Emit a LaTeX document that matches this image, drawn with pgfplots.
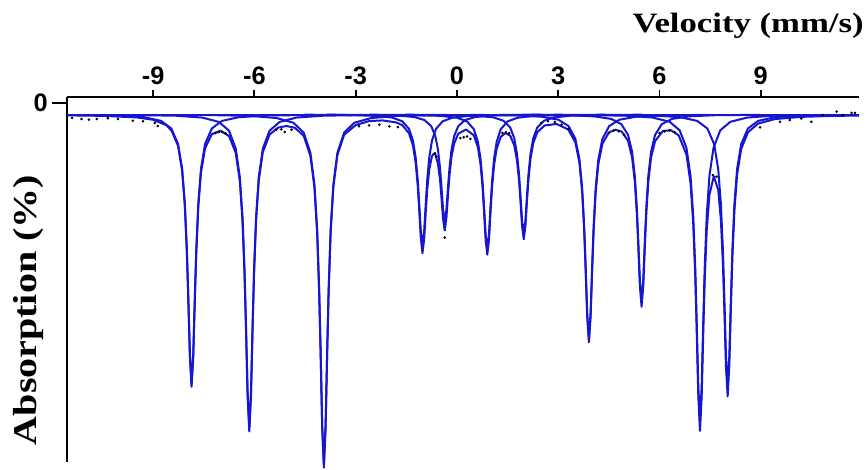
\documentclass[border=0pt]{standalone}
\usepackage{pgfplots}
\pgfplotsset{compat=1.18}
\usepackage{fontspec}
\usepackage{graphicx}
\setmainfont{Liberation Serif}
\newfontfamily\arialfont{Liberation Sans}
\definecolor{fitblue}{RGB}{22,22,210}
\pgfplotsset{fitline/.style={fitblue, line width=1.5pt, mark=none, line join=round}}
\begin{document}
\begin{tikzpicture}
\begin{axis}[
  scale only axis, width=594pt, height=273.75pt,
  xmin=-11.55, xmax=11.91, ymin=-2.0623, ymax=0.1039,
  clip=false,
  axis x line*=top, axis y line*=left,
  axis line style={line width=1.5pt, black},
  xtick={-9,-6,-3,0,3,6,9},
  xticklabels={-9,-6,-3,0,3,6,9},
  ytick=\empty,
  extra y ticks={0.068}, extra y tick labels={0},
  extra tick style={major tick length=11pt},
  tick align=outside,
  major tick length=5.5pt,
  tick style={line width=1.3pt, black},
  ticklabel style={font=\arialfont\bfseries\fontsize{19}{19}\selectfont},
]
% invisible frame giving the picture its size
\path (rel axis cs:-0.0846,-0.0192) rectangle (rel axis cs:1.0114,1.2658);

% baseline
\addplot[fitline] coordinates {(-11.55,0) (11.91,0)};

% sub-spectra (Lorentzian lines)
\addplot[fitline] coordinates {(-11.36,-0.003) (-10.06,-0.006) (-9.26,-0.016) (-8.76,-0.038) (-8.46,-0.083) (-8.26,-0.175) (-8.14,-0.320) (-8.06,-0.526) (-8.00,-0.800) (-7.96,-1.060) (-7.91,-1.419) (-7.86,-1.600) (-7.81,-1.419) (-7.76,-1.060) (-7.72,-0.800) (-7.66,-0.526) (-7.58,-0.320) (-7.46,-0.175) (-7.26,-0.083) (-6.96,-0.038) (-6.46,-0.016) (-5.66,-0.006) (-4.36,-0.003)};
\addplot[fitline] coordinates {(-9.65,-0.003) (-8.35,-0.007) (-7.55,-0.018) (-7.05,-0.044) (-6.75,-0.096) (-6.55,-0.203) (-6.43,-0.372) (-6.35,-0.612) (-6.29,-0.930) (-6.25,-1.232) (-6.20,-1.650) (-6.15,-1.860) (-6.10,-1.650) (-6.05,-1.232) (-6.01,-0.930) (-5.95,-0.612) (-5.87,-0.372) (-5.75,-0.203) (-5.55,-0.096) (-5.25,-0.044) (-4.75,-0.018) (-3.95,-0.007) (-2.65,-0.003)};
\addplot[fitline] coordinates {(-7.44,-0.003) (-6.14,-0.008) (-5.34,-0.021) (-4.84,-0.049) (-4.54,-0.107) (-4.34,-0.227) (-4.22,-0.416) (-4.14,-0.684) (-4.08,-1.040) (-4.04,-1.377) (-3.99,-1.845) (-3.94,-2.080) (-3.89,-1.845) (-3.84,-1.377) (-3.80,-1.040) (-3.74,-0.684) (-3.66,-0.416) (-3.54,-0.227) (-3.34,-0.107) (-3.04,-0.049) (-2.54,-0.021) (-1.74,-0.008) (-0.44,-0.003)};
\addplot[fitline] coordinates {(-4.52,-0.001) (-3.22,-0.003) (-2.42,-0.008) (-1.92,-0.018) (-1.62,-0.040) (-1.42,-0.085) (-1.30,-0.156) (-1.22,-0.257) (-1.16,-0.390) (-1.12,-0.517) (-1.07,-0.692) (-1.02,-0.780) (-0.97,-0.692) (-0.92,-0.517) (-0.88,-0.390) (-0.82,-0.257) (-0.74,-0.156) (-0.62,-0.085) (-0.42,-0.040) (-0.12,-0.018) (0.38,-0.008) (1.18,-0.003) (2.48,-0.001)};
\addplot[fitline] coordinates {(-3.86,-0.001) (-2.56,-0.003) (-1.76,-0.006) (-1.26,-0.015) (-0.96,-0.033) (-0.76,-0.069) (-0.64,-0.127) (-0.56,-0.209) (-0.50,-0.318) (-0.46,-0.421) (-0.41,-0.563) (-0.36,-0.635) (-0.31,-0.563) (-0.26,-0.421) (-0.22,-0.318) (-0.16,-0.209) (-0.08,-0.127) (0.04,-0.069) (0.24,-0.033) (0.54,-0.015) (1.04,-0.006) (1.84,-0.003) (3.14,-0.001)};
\addplot[fitline] coordinates {(-2.60,-0.001) (-1.30,-0.003) (-0.50,-0.008) (0.00,-0.019) (0.30,-0.041) (0.50,-0.087) (0.62,-0.160) (0.70,-0.263) (0.76,-0.400) (0.80,-0.530) (0.85,-0.710) (0.90,-0.800) (0.95,-0.710) (1.00,-0.530) (1.04,-0.400) (1.10,-0.263) (1.18,-0.160) (1.30,-0.087) (1.50,-0.041) (1.80,-0.019) (2.30,-0.008) (3.10,-0.003) (4.40,-0.001)};
\addplot[fitline] coordinates {(-1.52,-0.001) (-0.22,-0.003) (0.58,-0.007) (1.08,-0.017) (1.38,-0.037) (1.58,-0.077) (1.70,-0.142) (1.78,-0.234) (1.84,-0.355) (1.88,-0.470) (1.93,-0.630) (1.98,-0.710) (2.03,-0.630) (2.08,-0.470) (2.12,-0.355) (2.18,-0.234) (2.26,-0.142) (2.38,-0.077) (2.58,-0.037) (2.88,-0.017) (3.38,-0.007) (4.18,-0.003) (5.48,-0.001)};
\addplot[fitline] coordinates {(0.41,-0.002) (1.71,-0.005) (2.51,-0.013) (3.01,-0.031) (3.31,-0.069) (3.51,-0.145) (3.63,-0.266) (3.71,-0.437) (3.77,-0.665) (3.81,-0.881) (3.86,-1.180) (3.91,-1.330) (3.96,-1.180) (4.01,-0.881) (4.05,-0.665) (4.11,-0.437) (4.19,-0.266) (4.31,-0.145) (4.51,-0.069) (4.81,-0.031) (5.31,-0.013) (6.11,-0.005) (7.41,-0.002)};
\addplot[fitline] coordinates {(1.97,-0.002) (3.27,-0.004) (4.07,-0.011) (4.57,-0.026) (4.87,-0.057) (5.07,-0.121) (5.19,-0.222) (5.27,-0.365) (5.33,-0.555) (5.37,-0.735) (5.42,-0.984) (5.47,-1.110) (5.52,-0.984) (5.57,-0.735) (5.61,-0.555) (5.67,-0.365) (5.75,-0.222) (5.87,-0.121) (6.07,-0.057) (6.37,-0.026) (6.87,-0.011) (7.67,-0.004) (8.97,-0.002)};
\addplot[fitline] coordinates {(3.70,-0.003) (5.00,-0.007) (5.80,-0.018) (6.30,-0.043) (6.60,-0.094) (6.80,-0.199) (6.92,-0.364) (7.00,-0.599) (7.06,-0.910) (7.10,-1.205) (7.15,-1.614) (7.20,-1.820) (7.25,-1.614) (7.30,-1.205) (7.34,-0.910) (7.40,-0.599) (7.48,-0.364) (7.60,-0.199) (7.80,-0.094) (8.10,-0.043) (8.60,-0.018) (9.40,-0.007) (10.70,-0.003)};
\addplot[fitline] coordinates {(4.52,-0.003) (5.82,-0.006) (6.62,-0.016) (7.12,-0.038) (7.42,-0.083) (7.62,-0.176) (7.74,-0.323) (7.82,-0.531) (7.88,-0.808) (7.92,-1.069) (7.97,-1.432) (8.02,-1.615) (8.07,-1.432) (8.12,-1.069) (8.16,-0.808) (8.22,-0.531) (8.30,-0.323) (8.42,-0.176) (8.62,-0.083) (8.92,-0.038) (9.42,-0.016) (10.22,-0.006) (11.52,-0.003)};

% total fit (envelope)
\addplot[fitline] coordinates {
(-11.55,-0.005) (-10.5,-0.008) (-9.5,-0.017) (-9.0,-0.031) (-8.6,-0.064) (-8.45,-0.097) (-8.26,-0.186)
(-8.14,-0.333) (-8.06,-0.540) (-8.00,-0.814) (-7.96,-1.075) (-7.91,-1.434) (-7.86,-1.616) (-7.81,-1.436)
(-7.76,-1.078) (-7.72,-0.819) (-7.66,-0.546) (-7.58,-0.343) (-7.46,-0.200) (-7.26,-0.117) (-7.005,-0.096)
(-6.75,-0.128) (-6.55,-0.229) (-6.43,-0.396) (-6.35,-0.635) (-6.29,-0.953) (-6.25,-1.254) (-6.20,-1.671)
(-6.15,-1.881) (-6.10,-1.671) (-6.05,-1.253) (-6.01,-0.951) (-5.95,-0.633) (-5.87,-0.393) (-5.75,-0.224)
(-5.55,-0.119) (-5.30,-0.078) (-5.05,-0.068) (-4.80,-0.079) (-4.54,-0.126) (-4.34,-0.245) (-4.22,-0.433)
(-4.14,-0.701) (-4.08,-1.056) (-4.04,-1.393) (-3.99,-1.861) (-3.94,-2.096) (-3.89,-1.860) (-3.84,-1.392)
(-3.80,-1.055) (-3.74,-0.698) (-3.66,-0.430) (-3.54,-0.240) (-3.34,-0.120) (-3.00,-0.063) (-2.60,-0.039)
(-2.20,-0.035) (-1.80,-0.047) (-1.62,-0.063) (-1.42,-0.111) (-1.30,-0.185) (-1.22,-0.289) (-1.16,-0.424)
(-1.12,-0.553) (-1.07,-0.731) (-1.02,-0.823) (-0.97,-0.740) (-0.92,-0.570) (-0.88,-0.449) (-0.82,-0.327)
(-0.74,-0.248) (-0.69,-0.233) (-0.64,-0.237) (-0.56,-0.293) (-0.50,-0.388) (-0.46,-0.485) (-0.41,-0.621)
(-0.36,-0.688) (-0.31,-0.612) (-0.26,-0.467) (-0.22,-0.362) (-0.16,-0.251) (-0.08,-0.171) (0.04,-0.114)
(0.27,-0.089) (0.50,-0.123) (0.62,-0.194) (0.70,-0.296) (0.76,-0.433) (0.80,-0.563) (0.85,-0.742)
(0.90,-0.832) (0.95,-0.743) (1.00,-0.565) (1.04,-0.436) (1.10,-0.301) (1.18,-0.201) (1.30,-0.132)
(1.44,-0.110) (1.58,-0.126) (1.70,-0.184) (1.78,-0.272) (1.84,-0.391) (1.88,-0.505) (1.93,-0.662)
(1.98,-0.740) (2.03,-0.660) (2.08,-0.500) (2.12,-0.384) (2.18,-0.263) (2.26,-0.171) (2.38,-0.105)
(2.60,-0.065) (2.95,-0.056) (3.30,-0.089) (3.51,-0.166) (3.63,-0.287) (3.71,-0.458) (3.77,-0.687)
(3.81,-0.903) (3.86,-1.202) (3.91,-1.352) (3.96,-1.203) (4.01,-0.905) (4.05,-0.689) (4.11,-0.462)
(4.19,-0.293) (4.31,-0.174) (4.50,-0.107) (4.69,-0.090) (4.88,-0.101) (5.07,-0.156) (5.19,-0.256)
(5.27,-0.398) (5.33,-0.587) (5.37,-0.767) (5.42,-1.016) (5.47,-1.141) (5.52,-1.016) (5.57,-0.768)
(5.61,-0.588) (5.67,-0.399) (5.75,-0.257) (5.87,-0.158) (6.10,-0.098) (6.34,-0.093) (6.57,-0.124)
(6.80,-0.238) (6.92,-0.406) (7.00,-0.644) (7.06,-0.958) (7.10,-1.255) (7.15,-1.668) (7.20,-1.878)
(7.25,-1.678) (7.30,-1.275) (7.34,-0.987) (7.40,-0.688) (7.48,-0.476) (7.61,-0.367) (7.74,-0.446)
(7.82,-0.627) (7.88,-0.888) (7.92,-1.142) (7.97,-1.497) (8.02,-1.673) (8.07,-1.484) (8.12,-1.116)
(8.16,-0.851) (8.22,-0.570) (8.30,-0.357) (8.42,-0.205) (8.62,-0.106) (8.92,-0.054) (9.42,-0.027)
(10.2,-0.014) (11.0,-0.009) (11.91,-0.006)};

% measured data points
\addplot[only marks, mark=*, mark size=0.75pt, black] coordinates {
(-11.4,-0.020) (-11.12,-0.027) (-10.9,-0.030) (-10.67,-0.027) (-10.34,-0.022) (-10.04,-0.027) (-9.6,-0.037)
(-9.3,-0.040) (-8.95,-0.050) (-8.86,-0.068)
(-7.15,-0.110) (-7.05,-0.105) (-6.95,-0.104) (-6.85,-0.112)
(-5.35,-0.090) (-5.2,-0.088) (-5.1,-0.104) (-4.9,-0.090)
(-2.9,-0.070) (-2.6,-0.065) (-2.3,-0.060) (-2.0,-0.070) (-1.75,-0.075)
(-0.65,-0.230) (-0.6,-0.250) (-0.36,-0.730)
(0.1,-0.140) (0.2,-0.135) (0.3,-0.130) (0.4,-0.145)
(1.35,-0.110) (1.45,-0.105) (1.55,-0.110)
(2.5,-0.050) (2.7,-0.040) (2.9,-0.045) (3.1,-0.060) (3.3,-0.085)
(4.5,-0.110) (4.65,-0.095) (4.8,-0.100) (4.95,-0.120)
(6.0,-0.110) (6.15,-0.100) (6.3,-0.095) (6.45,-0.105)
(7.58,-0.360) (7.69,-0.370)
(8.98,-0.076) (9.57,-0.043) (9.86,-0.033) (10.2,-0.023) (10.5,-0.043) (10.84,-0.003) (11.25,0.017)
(11.43,-0.003) (11.69,0.010) (11.79,0.010)};

% axis titles
\node[anchor=north east, inner sep=0pt, font=\bfseries\fontsize{21}{21}\selectfont]
  at (rel axis cs:1.0063,1.230) {\scalebox{1.24}[1]{Velocity (mm/s)}};
\node[rotate=90, anchor=center, inner sep=0pt, font=\bfseries\fontsize{25}{25}\selectfont]
  at (rel axis cs:-0.0492,0.4164) {\scalebox{1.2}[1]{Absorption (\%)}};
\end{axis}
\end{tikzpicture}
\end{document}
